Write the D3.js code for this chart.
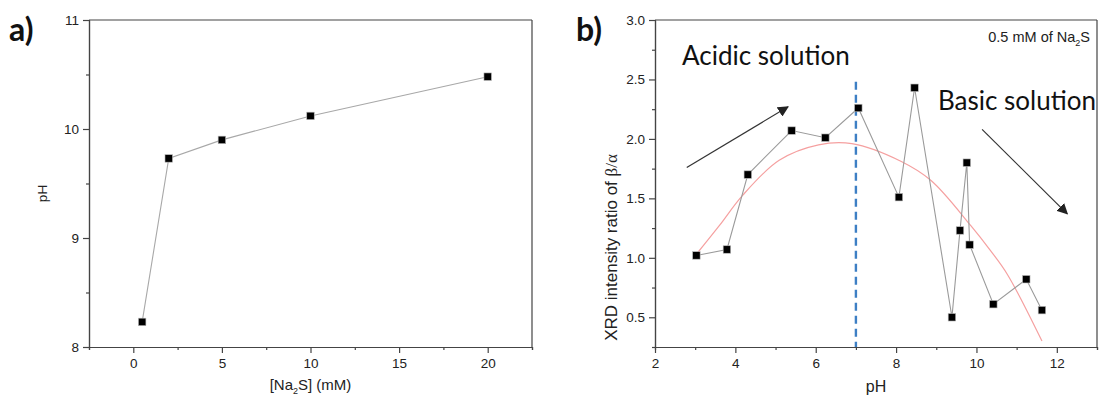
<!DOCTYPE html>
<html>
<head>
<meta charset="utf-8">
<script src="https://cdn.jsdelivr.net/npm/d3@7"></script>
<style>
  body { margin: 0; background: #fff; }
  svg { display: block; }
  .tick text { font-family: "Liberation Sans", Arial, sans-serif; font-size: 13.5px; fill: #222; }
  .domain, .tick line { stroke: #444; stroke-width: 1.2px; }
</style>
</head>
<body>
<svg id="chart" width="1099" height="398"></svg>
<script>
// panel a: pH vs Na2S concentration
var concA = [0.5, 2, 5, 10, 20];
var phA = [8.23, 9.73, 9.90, 10.12, 10.48];

// panel b: XRD ratio vs pH
var phB = [3.03, 3.79, 4.31, 5.40, 6.24, 7.06, 8.07, 8.46, 9.39, 9.59, 9.76, 9.83, 10.42, 11.24, 11.63];
var ratioB = [1.02, 1.07, 1.70, 2.07, 2.01, 2.26, 1.51, 2.43, 0.50, 1.23, 1.80, 1.11, 0.61, 0.82, 0.56];

// red fit curve
var fitPH = [3.03, 3.60, 4.18, 5.09, 6.07, 6.90, 8.13, 8.87, 9.86, 10.35, 10.77, 11.63];
var fitRatio = [1.03, 1.27, 1.525, 1.82, 1.95, 1.96, 1.81, 1.65, 1.27, 1.06, 0.86, 0.30];

var ticksXA = [0, 5, 10, 15, 20], minorXA = [-2.5, 2.5, 7.5, 12.5, 17.5, 22.5];
var ticksYA = [8, 9, 10, 11], minorYA = [8.5, 9.5, 10.5];
var ticksXB = [2, 4, 6, 8, 10, 12], minorXB = [3, 5, 7, 9, 11, 13];
var ticksYB = [0.5, 1.0, 1.5, 2.0, 2.5, 3.0], minorYB = [0.25, 0.75, 1.25, 1.75, 2.25, 2.75];

var svg = d3.select("#chart");
var font = "'Liberation Sans', Arial, sans-serif";

function frame(g, x, y, xt, xm, yt, ym, yfmt) {
  var w = x.range()[1], h = y.range()[0];
  g.append("g").attr("transform", "translate(0," + h + ")")
    .call(d3.axisBottom(x).tickValues(xm).tickSize(3).tickFormat(""));
  g.append("g").attr("transform", "translate(0," + h + ")")
    .call(d3.axisBottom(x).tickValues(xt).tickSize(6).tickSizeOuter(0).tickPadding(5));
  g.append("g")
    .call(d3.axisLeft(y).tickValues(ym).tickSize(3).tickFormat(""));
  g.append("g")
    .call(d3.axisLeft(y).tickValues(yt).tickSize(6).tickSizeOuter(0).tickPadding(4).tickFormat(yfmt));
  g.append("line").attr("x1", 0).attr("x2", w).attr("y1", 0).attr("y2", 0)
    .attr("stroke", "#444").attr("stroke-width", 1.2);
  g.append("line").attr("x1", w).attr("x2", w).attr("y1", 0).attr("y2", h)
    .attr("stroke", "#444").attr("stroke-width", 1.2);
}

function squares(g, data, x, y, s) {
  g.selectAll(".pt").data(data).enter().append("rect")
    .attr("class", "pt")
    .attr("x", function(d) { return x(d[0]) - s / 2; })
    .attr("y", function(d) { return y(d[1]) - s / 2; })
    .attr("width", s).attr("height", s)
    .attr("fill", "#000").attr("stroke", "#bbb").attr("stroke-width", 0.6);
}

// ---------- panel a ----------
var wA = 443, hA = 327;
var gA = svg.append("g").attr("transform", "translate(89,20)");
var xA = d3.scaleLinear().domain([-2.5, 22.5]).range([0, wA]);
var yA = d3.scaleLinear().domain([8, 11]).range([hA, 0]);
frame(gA, xA, yA, ticksXA, minorXA, ticksYA, minorYA, d3.format("d"));

var ptsA = concA.map(function(c, i) { return [c, phA[i]]; });
gA.append("path").datum(ptsA)
  .attr("fill", "none").attr("stroke", "#a8a8a8").attr("stroke-width", 1.1)
  .attr("d", d3.line().x(function(d) { return xA(d[0]); }).y(function(d) { return yA(d[1]); }));
squares(gA, ptsA, xA, yA, 7.5);

gA.append("text")
  .attr("transform", "translate(-42," + (hA / 2 + 10) + ") rotate(-90)")
  .attr("text-anchor", "middle").attr("font-family", font).attr("font-size", 13.5)
  .attr("fill", "#222").text("pH");

var xlabA = gA.append("text")
  .attr("x", xA(10)).attr("y", hA + 43)
  .attr("text-anchor", "middle").attr("font-family", font).attr("font-size", 15).attr("fill", "#222");
xlabA.append("tspan").text("[Na");
xlabA.append("tspan").attr("font-size", 9).attr("dy", 4).text("2");
xlabA.append("tspan").attr("dy", -4).text("S] (mM)");

svg.append("text").attr("x", 9).attr("y", 41)
  .attr("font-family", "Lato, 'Open Sans', sans-serif").attr("font-weight", "bold")
  .attr("font-size", 32).attr("fill", "#111").text("a)");

// ---------- panel b ----------
var wB = 442, hB = 327;
var gB = svg.append("g").attr("transform", "translate(655,20)");
var xB = d3.scaleLinear().domain([2, 13]).range([0, wB]);
var yB = d3.scaleLinear().domain([0.25, 3.0]).range([hB, 0]);
frame(gB, xB, yB, ticksXB, minorXB, ticksYB, minorYB, d3.format(".1f"));

// pH 7 divider
gB.append("line")
  .attr("x1", xB(7)).attr("x2", xB(7)).attr("y1", yB(2.48)).attr("y2", hB)
  .attr("stroke", "#3d7fc4").attr("stroke-width", 2.4).attr("stroke-dasharray", "8,5");

var fitPts = fitPH.map(function(p, i) { return [p, fitRatio[i]]; });
gB.append("path").datum(fitPts)
  .attr("fill", "none").attr("stroke", "#f5a0a0").attr("stroke-width", 1.2)
  .attr("d", d3.line().curve(d3.curveCatmullRom).x(function(d) { return xB(d[0]); }).y(function(d) { return yB(d[1]); }));

var ptsB = phB.map(function(p, i) { return [p, ratioB[i]]; });
gB.append("path").datum(ptsB)
  .attr("fill", "none").attr("stroke", "#9a9a9a").attr("stroke-width", 1.1)
  .attr("d", d3.line().x(function(d) { return xB(d[0]); }).y(function(d) { return yB(d[1]); }));
squares(gB, ptsB, xB, yB, 7.5);

// arrows
svg.append("defs").append("marker")
  .attr("id", "head").attr("viewBox", "0 0 10 10").attr("refX", 9).attr("refY", 5)
  .attr("markerWidth", 11).attr("markerHeight", 11).attr("markerUnits", "userSpaceOnUse")
  .attr("orient", "auto")
  .append("path").attr("d", "M0,0 L10,5 L0,10 z").attr("fill", "#222");

var arrows = [[[2.79, 1.76], [5.31, 2.27]], [[10.14, 2.08], [12.26, 1.37]]];
gB.selectAll(".arrow").data(arrows).enter().append("line")
  .attr("class", "arrow")
  .attr("x1", function(d) { return xB(d[0][0]); }).attr("y1", function(d) { return yB(d[0][1]); })
  .attr("x2", function(d) { return xB(d[1][0]); }).attr("y2", function(d) { return yB(d[1][1]); })
  .attr("stroke", "#333").attr("stroke-width", 1.2).attr("marker-end", "url(#head)");

gB.append("text").attr("x", 27).attr("y", 45)
  .attr("font-family", "Lato, sans-serif").attr("font-size", 26).attr("fill", "#111")
  .text("Acidic solution");
gB.append("text").attr("x", 283).attr("y", 90)
  .attr("font-family", "Lato, sans-serif").attr("font-size", 26).attr("fill", "#111")
  .text("Basic solution");

var note = gB.append("text").attr("x", wB - 7).attr("y", 22)
  .attr("text-anchor", "end").attr("font-family", font).attr("font-size", 14.5).attr("fill", "#222");
note.append("tspan").text("0.5 mM of Na");
note.append("tspan").attr("font-size", 9).attr("dy", 4).text("2");
note.append("tspan").attr("dy", -4).text("S");

var ylabB = gB.append("text")
  .attr("transform", "translate(-38," + (hB / 2 + 64) + ") rotate(-90)")
  .attr("text-anchor", "middle").attr("font-family", font).attr("font-size", 17).attr("fill", "#222");
ylabB.append("tspan").text("XRD intensity ratio of ");
ylabB.append("tspan").attr("font-family", "'Liberation Serif', 'DejaVu Serif', serif").text("β/α");

gB.append("text").attr("x", xB(7.5)).attr("y", hB + 45)
  .attr("text-anchor", "middle").attr("font-family", font).attr("font-size", 16).attr("fill", "#222")
  .text("pH");

svg.append("text").attr("x", 576).attr("y", 41)
  .attr("font-family", "Lato, 'Open Sans', sans-serif").attr("font-weight", "bold")
  .attr("font-size", 32).attr("fill", "#111").text("b)");
</script>
</body>
</html>
